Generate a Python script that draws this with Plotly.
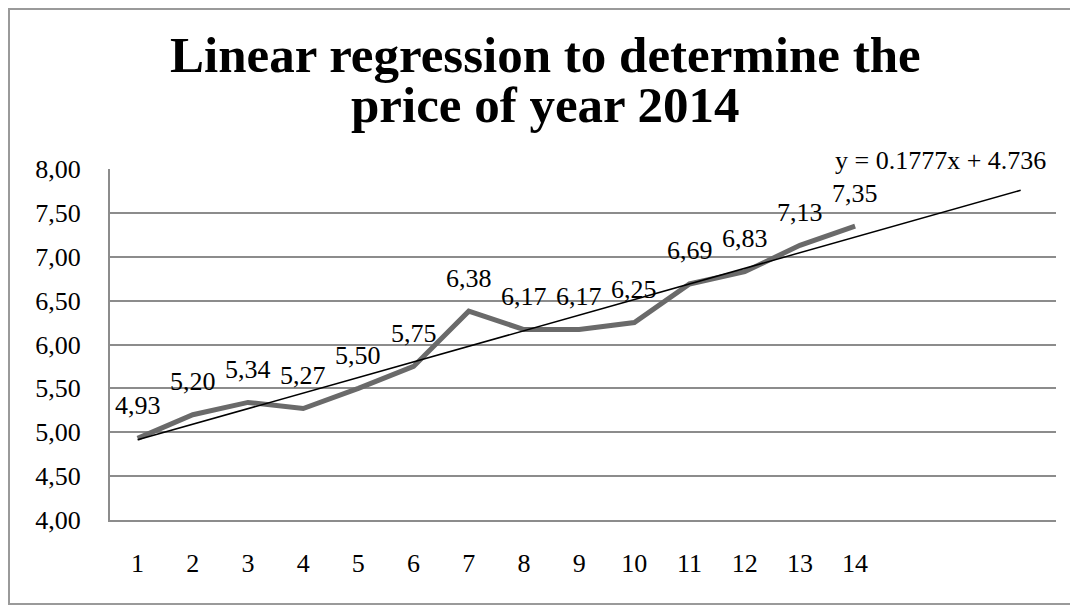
import plotly.graph_objects as go

x_vals = list(range(1, 15))
prices = [4.93, 5.20, 5.34, 5.27, 5.50, 5.75, 6.38, 6.17, 6.17, 6.25, 6.69, 6.83, 7.13, 7.35]
price_labels = ["4,93", "5,20", "5,34", "5,27", "5,50", "5,75", "6,38", "6,17", "6,17", "6,25", "6,69", "6,83", "7,13", "7,35"]
slope = 0.1777
intercept = 4.736
trend_x = [1, 17]
trend_y = [slope * v + intercept for v in trend_x]
title_lines = ["Linear regression to determine the", "price of year 2014"]
equation = "y = 0.1777x + 4.736"

FONT = "Liberation Serif"
W, H = 1070, 597
L, R, T, B = 102, 22, 161, 85
PW, PH = W - L - R, H - T - B

fig = go.Figure()
fig.add_trace(go.Scatter(x=x_vals, y=prices, mode="lines",
                         line=dict(color="#6a6a6a", width=5), showlegend=False))
fig.add_trace(go.Scatter(x=trend_x, y=trend_y, mode="lines",
                         line=dict(color="black", width=1.5), showlegend=False))

for xv, yv, lab in zip(x_vals, prices, price_labels):
    fig.add_annotation(x=xv, y=yv, text=lab, showarrow=False, yshift=33,
                       font=dict(family=FONT, size=26, color="black"))

fig.add_annotation(x=trend_x[1], y=trend_y[1], text=equation, showarrow=False,
                   xshift=-80, yshift=30, font=dict(family=FONT, size=26, color="black"))

# two-line title
for i, line in enumerate(title_lines):
    fig.add_annotation(xref="paper", yref="paper", x=(537 - L) / PW,
                       y=(H - B - (47 + 50 * i)) / PH, yanchor="middle",
                       text=line, showarrow=False,
                       font=dict(family=FONT, size=51, color="black", weight="bold"))

fig.update_layout(
    width=W, height=H,
    margin=dict(l=L, r=R, t=T, b=B),
    paper_bgcolor="white", plot_bgcolor="white",
    separators=",.",
    font=dict(family=FONT, size=26, color="black"),
    xaxis=dict(range=[0.5, 17.64], tickmode="array", tickvals=x_vals,
               ticktext=[str(v) for v in x_vals], showgrid=False, zeroline=False,
               showline=True, linecolor="#8c8c8c", linewidth=2, ticks="",
               ticklabelstandoff=19),
    yaxis=dict(range=[4, 8], dtick=0.5, tickformat=".2f", showgrid=True,
               gridcolor="#8c8c8c", gridwidth=1.5, zeroline=False,
               showline=True, linecolor="#8c8c8c", linewidth=2, ticks="",
               ticklabelstandoff=22),
    shapes=[dict(type="rect", xref="paper", yref="paper",
                 x0=-(L - 1) / PW, x1=1 + (R - 3) / PW, y0=-(B - 1) / PH, y1=1 + (T - 1) / PH,
                 line=dict(color="#9a9a9a", width=2))],
)

fig.write_html("out.html")
